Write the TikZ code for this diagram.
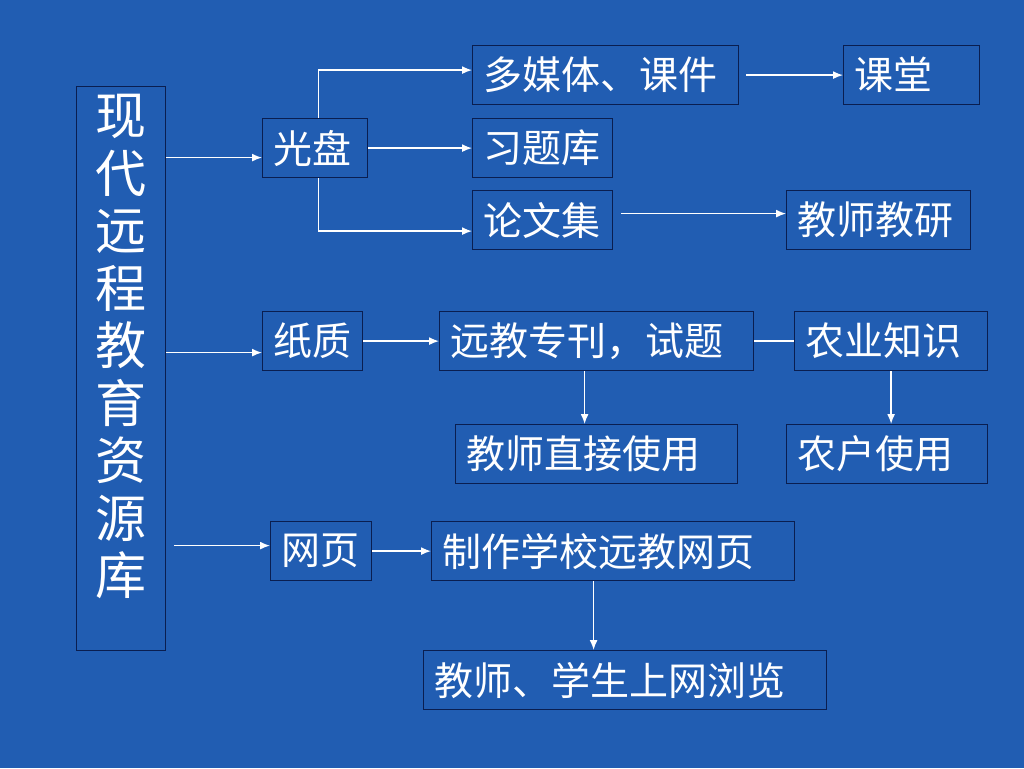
\documentclass[tikz,border=0pt]{standalone}
\usepackage{fontspec}
\newfontfamily\cjk{Noto Sans CJK SC}
\usepackage{tikz}
\usetikzlibrary{arrows,arrows.meta}
\usetikzlibrary{positioning}

\definecolor{slide}{RGB}{33,93,178}
\definecolor{rim}{RGB}{10,30,80}

\tikzset{
	box/.style={draw=rim, line width=1.2pt, anchor=north west, inner xsep=11pt, inner ysep=0pt,
		minimum height=59pt, text=white, align=left, font=\cjk\fontsize{39}{42}\selectfont},
	link/.style={->,>={Latex[length=10pt,width=8pt]}, white, line width=1.4pt},
}

\begin{document}
\begin{tikzpicture}[x={(1pt,0)}, y={(0,-1pt)}]
			
			\fill[slide] (0,0) rectangle (1024,768);
			
			% left column
			\node[draw=rim, line width=1.2pt, anchor=north west, minimum width=89pt, minimum height=564pt, inner sep=0pt] (lib) at (76,86) {};
			\node[anchor=north, inner sep=0pt, text=white, align=center, font=\cjk\fontsize{51}{57.5}\selectfont] (libname) at ([yshift=-8pt]lib.north) {现\\代\\远\\程\\教\\育\\资\\源\\库};
			
			% disc
			\node[box, text width=83pt] (guangpan) at (262,118) {光盘};
			\node[box, text width=244pt] (mm) at (472,45) {多媒体、课件};
			\node[box, text width=114pt] (ketang) at (843,45) {课堂};
			\node[box, text width=118pt] (xiti) at (472,118) {习题库};
			\node[box, text width=118pt] (lunwen) at (472,190) {论文集};
			\node[box, text width=162pt] (jiaoyan) at (786,190) {教师教研};
			
			% paper
			\node[box, text width=78pt] (zhizhi) at (262,311) {纸质};
			\node[box, text width=292pt] (zhuankan) at (439,311) {远教专刊，试题};
			\node[box, text width=171pt] (nongye) at (794,311) {农业知识};
			\node[box, text width=260pt] (zhijie) at (455,424) {教师直接使用};
			\node[box, text width=179pt] (nonghu) at (786,424) {农户使用};
			
			% web
			\node[box, text width=79pt] (wangye) at (270,521) {网页};
			\node[box, text width=341pt] (zhizuo) at (431,521) {制作学校远教网页};
			\node[box, text width=381pt] (liulan) at (423,650) {教师、学生上网浏览};
			
			\path ([yshift=-9.5pt]guangpan.west) coordinate (g-in);
			\path ([yshift=-11.5pt]zhizhi.west) coordinate (z-in);
			\path ([yshift=5.5pt]wangye.west) coordinate (w-in);
			
			\draw[link] (g-in -| lib.east) -- (g-in);
			\draw[link] (z-in -| lib.east) -- (z-in);
			\draw[link] ([xshift=8pt]w-in -| lib.east) -- (w-in);
			
			\draw[link] ([xshift=3.5pt]guangpan.north) |- ([yshift=5pt]mm.west);
			\draw[link] (guangpan.east) -- (xiti.west);
			\draw[link] ([xshift=3.5pt]guangpan.south) |- ([yshift=-11pt]lunwen.west);
			\draw[link] ([xshift=7pt]mm.east) -- (ketang.west);
			\draw[link] ([xshift=8pt,yshift=6.5pt]lunwen.east) -- ([yshift=6.5pt]jiaoyan.west);
			
			\draw[link] (zhizhi.east) -- (zhuankan.west);
			\draw[white, line width=1.4pt] (zhuankan.east) -- (nongye.west);
			\draw[link] ([xshift=-12pt]zhuankan.south) -- ([xshift=-12pt]zhuankan.south |- zhijie.north);
			\draw[link] (nongye.south) -- (nongye.south |- nonghu.north);
			
			\draw[link] (wangye.east) -- (zhizuo.west);
			\draw[link] ([xshift=-19.5pt]zhizuo.south) -- ([xshift=-19.5pt]zhizuo.south |- liulan.north);
			
		\end{tikzpicture}
\end{document}
